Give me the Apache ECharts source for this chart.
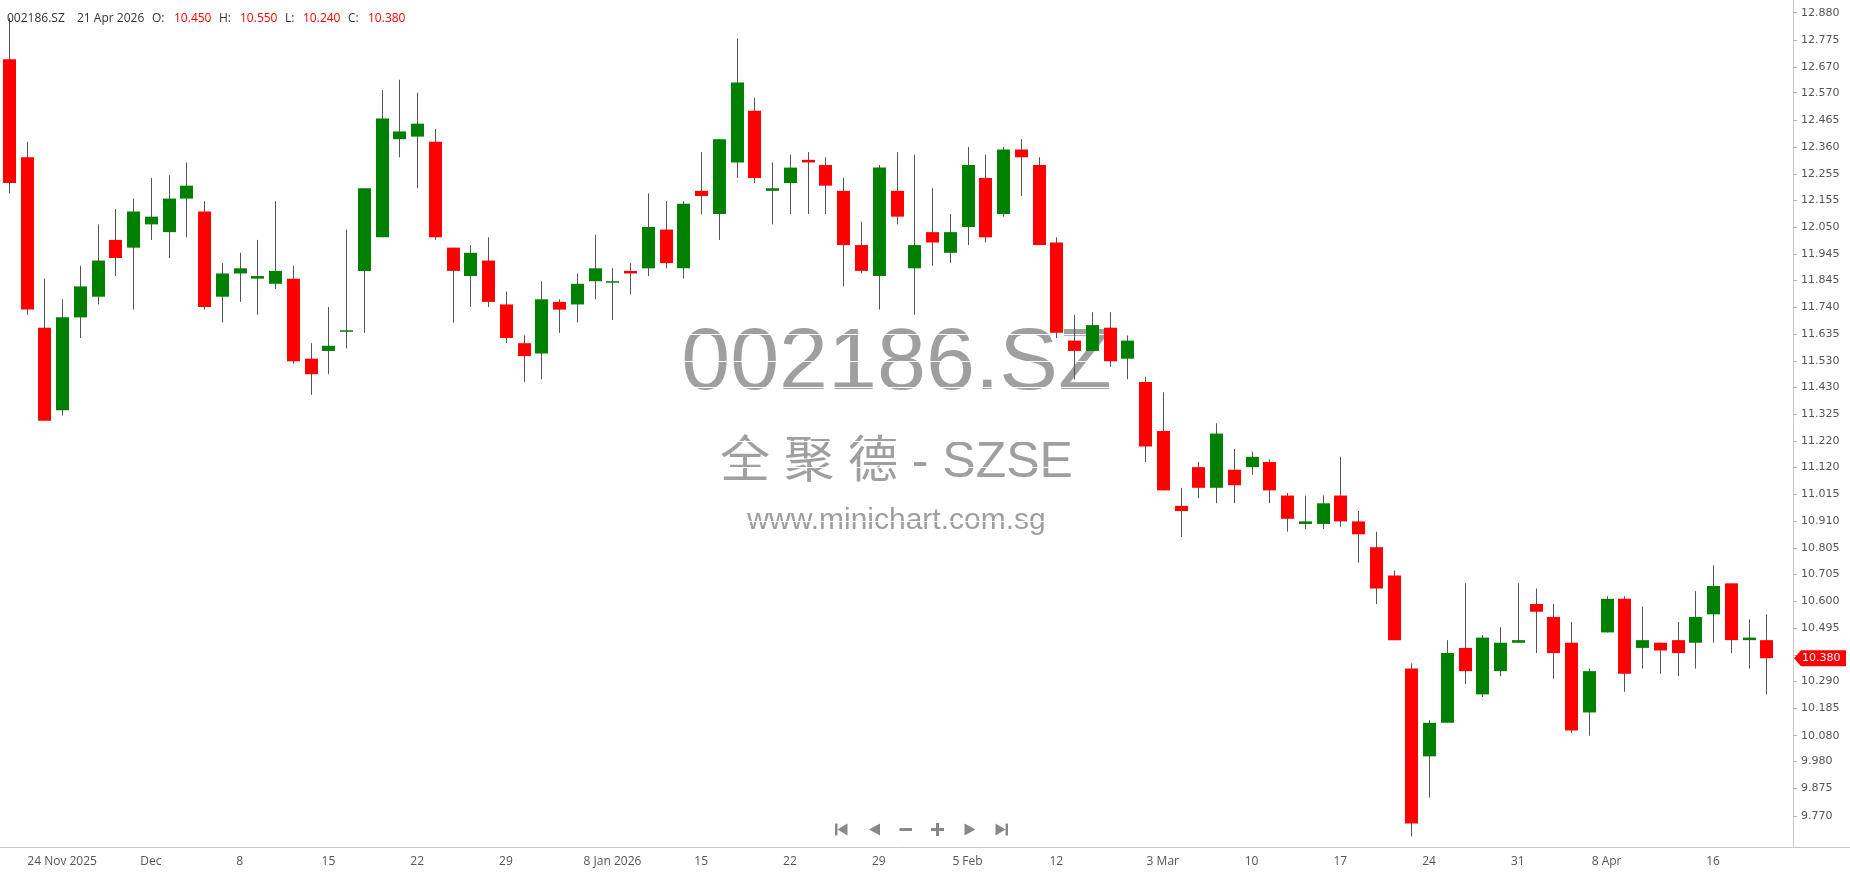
<!DOCTYPE html>
<html>
<head>
<meta charset="utf-8">
<title>002186.SZ</title>
<script src="https://cdn.jsdelivr.net/npm/echarts@6/dist/echarts.min.js"></script>
<style>
  html, body { margin: 0; padding: 0; background: #fff; }
  #chart { width: 1850px; height: 874px; }
</style>
</head>
<body>
<div id="chart"></div>
<script>
const symbol = "002186.SZ";
const nameLine = "全 聚 德 - SZSE";
const site = "www.minichart.com.sg";

const dates = [
  "2025-11-19", "2025-11-20", "2025-11-21", "2025-11-24", "2025-11-25", "2025-11-26", "2025-11-27", "2025-11-28",
  "2025-12-01", "2025-12-02", "2025-12-03", "2025-12-04", "2025-12-05", "2025-12-08", "2025-12-09", "2025-12-10",
  "2025-12-11", "2025-12-12", "2025-12-15", "2025-12-16", "2025-12-17", "2025-12-18", "2025-12-19", "2025-12-22",
  "2025-12-23", "2025-12-24", "2025-12-25", "2025-12-26", "2025-12-29", "2025-12-30", "2025-12-31", "2026-01-05",
  "2026-01-06", "2026-01-07", "2026-01-08", "2026-01-09", "2026-01-12", "2026-01-13", "2026-01-14", "2026-01-15",
  "2026-01-16", "2026-01-19", "2026-01-20", "2026-01-21", "2026-01-22", "2026-01-23", "2026-01-26", "2026-01-27",
  "2026-01-28", "2026-01-29", "2026-01-30", "2026-02-02", "2026-02-03", "2026-02-04", "2026-02-05", "2026-02-06",
  "2026-02-09", "2026-02-10", "2026-02-11", "2026-02-12", "2026-02-13", "2026-02-25", "2026-02-26", "2026-02-27",
  "2026-03-02", "2026-03-03", "2026-03-04", "2026-03-05", "2026-03-06", "2026-03-09", "2026-03-10", "2026-03-11",
  "2026-03-12", "2026-03-13", "2026-03-16", "2026-03-17", "2026-03-18", "2026-03-19", "2026-03-20", "2026-03-23",
  "2026-03-24", "2026-03-25", "2026-03-26", "2026-03-27", "2026-03-30", "2026-03-31", "2026-04-01", "2026-04-02",
  "2026-04-03", "2026-04-07", "2026-04-08", "2026-04-09", "2026-04-10", "2026-04-13", "2026-04-14", "2026-04-15",
  "2026-04-16", "2026-04-17", "2026-04-20", "2026-04-21",
];

const opens = [
  12.70, 12.32, 11.66, 11.34, 11.70, 11.78, 12.00, 11.97, 12.06, 12.03,
  12.16, 12.11, 11.78, 11.87, 11.85, 11.83, 11.85, 11.54, 11.57, 11.65,
  11.88, 12.01, 12.39, 12.40, 12.38, 11.97, 11.86, 11.92, 11.75, 11.60,
  11.56, 11.76, 11.75, 11.84, 11.84, 11.88, 11.89, 12.04, 11.89, 12.19,
  12.10, 12.30, 12.50, 12.19, 12.22, 12.31, 12.29, 12.19, 11.98, 11.86,
  12.19, 11.89, 12.03, 11.95, 12.05, 12.24, 12.10, 12.35, 12.29, 11.99,
  11.61, 11.57, 11.66, 11.54, 11.45, 11.26, 10.97, 11.12, 11.04, 11.11,
  11.12, 11.14, 11.01, 10.90, 10.90, 11.01, 10.91, 10.81, 10.70, 10.34,
  10.00, 10.13, 10.42, 10.24, 10.33, 10.44, 10.59, 10.54, 10.44, 10.17,
  10.48, 10.61, 10.42, 10.44, 10.45, 10.44, 10.55, 10.67, 10.45, 10.45,
];
const highs = [
  12.86, 12.38, 11.85, 11.77, 11.90, 12.06, 12.12, 12.16, 12.24, 12.25,
  12.30, 12.15, 11.91, 11.95, 12.00, 12.15, 11.90, 11.60, 11.74, 12.04,
  12.20, 12.58, 12.62, 12.57, 12.43, 11.97, 11.98, 12.01, 11.80, 11.63,
  11.84, 11.77, 11.87, 12.02, 11.89, 11.91, 12.18, 12.15, 12.15, 12.34,
  12.39, 12.78, 12.55, 12.30, 12.33, 12.34, 12.32, 12.24, 12.07, 12.29,
  12.34, 12.33, 12.20, 12.10, 12.36, 12.33, 12.36, 12.39, 12.32, 12.01,
  11.71, 11.72, 11.72, 11.63, 11.47, 11.41, 11.04, 11.14, 11.29, 11.19,
  11.18, 11.15, 11.02, 11.01, 11.01, 11.16, 10.95, 10.87, 10.72, 10.36,
  10.14, 10.45, 10.67, 10.47, 10.50, 10.67, 10.65, 10.59, 10.52, 10.34,
  10.62, 10.62, 10.58, 10.44, 10.52, 10.64, 10.74, 10.67, 10.53, 10.55,
];
const lows = [
  12.18, 11.71, 11.30, 11.32, 11.62, 11.75, 11.86, 11.73, 12.00, 11.93,
  12.01, 11.73, 11.68, 11.76, 11.71, 11.81, 11.52, 11.40, 11.48, 11.58,
  11.64, 12.01, 12.32, 12.20, 12.00, 11.68, 11.74, 11.74, 11.60, 11.45,
  11.46, 11.64, 11.68, 11.77, 11.69, 11.79, 11.86, 11.89, 11.85, 12.10,
  12.00, 12.24, 12.22, 12.06, 12.10, 12.10, 12.10, 11.82, 11.87, 11.73,
  12.06, 11.71, 11.90, 11.91, 11.98, 11.99, 12.09, 12.17, 11.98, 11.62,
  11.46, 11.57, 11.51, 11.46, 11.14, 11.03, 10.85, 11.00, 10.98, 10.98,
  11.09, 10.98, 10.87, 10.88, 10.88, 10.89, 10.75, 10.59, 10.45, 9.69,
  9.84, 10.13, 10.28, 10.23, 10.31, 10.44, 10.40, 10.30, 10.09, 10.08,
  10.48, 10.25, 10.34, 10.32, 10.31, 10.34, 10.44, 10.40, 10.34, 10.24,
];
const closes = [
  12.22, 11.73, 11.30, 11.70, 11.82, 11.92, 11.93, 12.11, 12.09, 12.16,
  12.21, 11.74, 11.87, 11.89, 11.86, 11.88, 11.53, 11.48, 11.59, 11.65,
  12.20, 12.47, 12.42, 12.45, 12.01, 11.88, 11.95, 11.76, 11.62, 11.55,
  11.77, 11.73, 11.83, 11.89, 11.84, 11.87, 12.05, 11.91, 12.14, 12.17,
  12.39, 12.61, 12.24, 12.20, 12.28, 12.30, 12.21, 11.98, 11.88, 12.28,
  12.09, 11.98, 11.99, 12.03, 12.29, 12.01, 12.35, 12.32, 11.98, 11.64,
  11.57, 11.67, 11.53, 11.61, 11.20, 11.03, 10.95, 11.04, 11.25, 11.05,
  11.16, 11.03, 10.92, 10.91, 10.98, 10.91, 10.86, 10.65, 10.45, 9.74,
  10.13, 10.40, 10.33, 10.46, 10.44, 10.45, 10.56, 10.40, 10.10, 10.33,
  10.61, 10.32, 10.45, 10.41, 10.40, 10.54, 10.66, 10.45, 10.46, 10.38,
];

const tickDates = [
  "2025-11-24", "2025-12-01", "2025-12-08", "2025-12-15", "2025-12-22", "2025-12-29",
  "2026-01-08", "2026-01-15", "2026-01-22", "2026-01-29", "2026-02-05", "2026-02-12",
  "2026-03-03", "2026-03-10", "2026-03-17", "2026-03-24", "2026-03-31", "2026-04-08", "2026-04-16",
];
const tickTexts = [
  "24 Nov 2025", "Dec", "8", "15", "22", "29",
  "8 Jan 2026", "15", "22", "29", "5 Feb", "12",
  "3 Mar", "10", "17", "24", "31", "8 Apr", "16",
];

const priceTicks = [
  "12.880", "12.775", "12.670", "12.570", "12.465", "12.360", "12.255", "12.155", "12.050", "11.945",
  "11.845", "11.740", "11.635", "11.530", "11.430", "11.325", "11.220", "11.120", "11.015", "10.910",
  "10.805", "10.705", "10.600", "10.495", "10.390", "10.290", "10.185", "10.080", "9.980", "9.875", "9.770",
];

const UP = "#008000";
const DOWN = "#ff0000";
const WICK = "#555555";
const MUTED = "#9f9f9f";
const ICON = "#888888";
const GRID_RIGHT = 57;
const GRID_BOTTOM = 27;
const MONTHS = ["Jan", "Feb", "Mar", "Apr", "May", "Jun", "Jul", "Aug", "Sep", "Oct", "Nov", "Dec"];

// one spare slot on the right, like the original
const categories = dates.concat([""]);
const candles = dates.map((d, i) => [i, opens[i], closes[i], lows[i], highs[i]]);
const isTick = (index, value) => tickDates.includes(value);

function renderCandle(params, api) {
  const i = api.value(0);
  const open = api.value(1);
  const close = api.value(2);
  const [x, yOpen] = api.coord([i, open]);
  const yClose = api.coord([i, close])[1];
  const yLow = api.coord([i, api.value(3)])[1];
  const yHigh = api.coord([i, api.value(4)])[1];
  const bodyW = Math.round(api.size([1, 0])[0] * 0.75);
  const cx = Math.round(x) + 0.5;
  return {
    type: "group",
    children: [
      {
        type: "line",
        shape: { x1: cx, y1: yHigh, x2: cx, y2: yLow },
        style: { stroke: WICK, lineWidth: 1 },
      },
      {
        type: "rect",
        shape: {
          x: cx - bodyW / 2,
          y: Math.min(yOpen, yClose),
          width: bodyW,
          height: Math.max(Math.abs(yOpen - yClose), 1.5),
        },
        style: { fill: close >= open ? UP : DOWN },
      },
    ],
  };
}

const el = document.getElementById("chart");
const chart = echarts.init(el);

chart.setOption({
  animation: false,
  backgroundColor: "#ffffff",
  grid: { left: 0, right: GRID_RIGHT, top: 0, bottom: GRID_BOTTOM },
  xAxis: {
    type: "category",
    data: categories,
    boundaryGap: true,
    axisLine: { lineStyle: { color: "#c8c8c8" } },
    axisTick: { alignWithLabel: true, interval: isTick, length: 6, lineStyle: { color: "#c8c8c8" } },
    axisLabel: {
      interval: isTick,
      formatter: (value) => tickTexts[tickDates.indexOf(value)],
      color: "#555",
      fontFamily: "Open Sans",
      fontSize: 12,
      margin: 9,
    },
    splitLine: { show: false },
  },
  yAxis: {
    type: "value",
    position: "right",
    min: 9.649,
    max: 12.929,
    axisLine: { show: true, lineStyle: { color: "#c8c8c8" } },
    axisTick: {
      show: true,
      length: 4,
      customValues: priceTicks.map(Number),
      lineStyle: { color: "#b4b4b4" },
    },
    axisLabel: {
      customValues: priceTicks.map(Number),
      formatter: (v) => v.toFixed(3),
      color: "#555",
      fontFamily: "DejaVu Sans",
      fontSize: 11,
      margin: 8,
    },
    splitLine: { show: true, lineStyle: { color: "#ffffff" } },
  },
  series: [
    {
      name: symbol,
      type: "custom",
      renderItem: renderCandle,
      encode: { x: 0, y: [1, 2, 3, 4] },
      data: candles,
      z: 2,
    },
  ],
});

const last = dates.length - 1;
const [yy, mm, dd] = dates[last].split("-");
const lastColor = closes[last] >= opens[last] ? UP : DOWN;
const tagY = chart.convertToPixel({ yAxisIndex: 0 }, closes[last]);
const W = chart.getWidth();
const H = chart.getHeight();
const axisX = W - GRID_RIGHT;

function headerText(x, text, color) {
  return {
    type: "text",
    x,
    y: 19,
    z: 100,
    style: { text, fill: color, font: "12px 'Open Sans'", verticalAlign: "middle" },
  };
}

function mark(cx, text, size, y) {
  return {
    type: "text",
    x: cx,
    y,
    z: -5,
    style: {
      text,
      fill: MUTED,
      font: `${size}px 'Liberation Sans', 'Noto Sans CJK SC'`,
      align: "center",
      verticalAlign: "middle",
    },
  };
}

const cx = axisX / 2;
const iconY = 829.5;
const navIcons = [
  { type: "rect", shape: { x: 835, y: iconY - 6, width: 2.5, height: 12 } },
  { type: "polygon", shape: { points: [[847.5, iconY - 6], [847.5, iconY + 6], [837.5, iconY]] } },
  { type: "polygon", shape: { points: [[880, iconY - 6], [880, iconY + 6], [869, iconY]] } },
  { type: "rect", shape: { x: 899.5, y: iconY - 1.5, width: 12.5, height: 3 } },
  { type: "rect", shape: { x: 931, y: iconY - 1.5, width: 13, height: 3 } },
  { type: "rect", shape: { x: 936, y: iconY - 6.5, width: 3, height: 13 } },
  { type: "polygon", shape: { points: [[964.5, iconY - 6], [964.5, iconY + 6], [975.5, iconY]] } },
  { type: "polygon", shape: { points: [[995.5, iconY - 6], [995.5, iconY + 6], [1005.5, iconY]] } },
  { type: "rect", shape: { x: 1005.5, y: iconY - 6, width: 2.5, height: 12 } },
].map((item) => ({ ...item, z: 100, style: { fill: ICON } }));

chart.setOption({
  graphic: {
    elements: [
      mark(cx, symbol, 88, 365),
      mark(cx, nameLine, 50, 463),
      mark(cx, site, 30, 521),
      headerText(7, symbol, "#333"),
      headerText(77, `${Number(dd)} ${MONTHS[Number(mm) - 1]} ${yy}`, "#333"),
      headerText(152, "O:", "#333"),
      headerText(174, opens[last].toFixed(3), lastColor),
      headerText(219, "H:", "#333"),
      headerText(240, highs[last].toFixed(3), lastColor),
      headerText(285, "L:", "#333"),
      headerText(303, lows[last].toFixed(3), lastColor),
      headerText(348, "C:", "#333"),
      headerText(368, closes[last].toFixed(3), lastColor),
      ...navIcons,
      {
        type: "line",
        z: 100,
        shape: { x1: axisX, y1: H - GRID_BOTTOM + 0.5, x2: W, y2: H - GRID_BOTTOM + 0.5 },
        style: { stroke: "#c8c8c8", lineWidth: 1 },
      },
      {
        type: "polygon",
        z: 100,
        shape: {
          points: [
            [axisX + 1, tagY],
            [axisX + 8, tagY - 8],
            [W - 4, tagY - 8],
            [W - 4, tagY + 8],
            [axisX + 8, tagY + 8],
          ],
        },
        style: { fill: lastColor },
      },
      {
        type: "text",
        x: axisX + 9,
        y: tagY,
        z: 101,
        style: {
          text: closes[last].toFixed(3),
          fill: "#ffffff",
          font: "11px 'DejaVu Sans'",
          verticalAlign: "middle",
        },
      },
    ],
  },
});

window.addEventListener("resize", () => chart.resize());
</script>
</body>
</html>
